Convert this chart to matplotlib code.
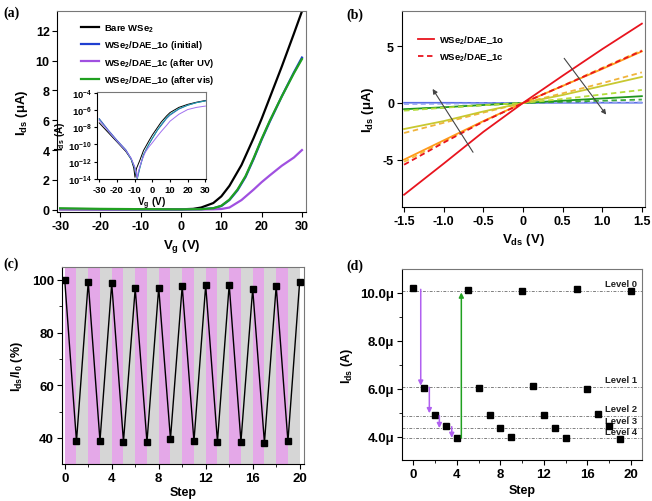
import matplotlib
matplotlib.use("Agg")
import matplotlib.pyplot as plt
import numpy as np
from matplotlib.ticker import MultipleLocator, FuncFormatter, FixedLocator

plt.rcParams["font.family"] = "Liberation Sans"
plt.rcParams["font.weight"] = "bold"
plt.rcParams["axes.labelweight"] = "bold"
plt.rcParams["axes.unicode_minus"] = False
plt.rcParams["mathtext.fontset"] = "custom"
plt.rcParams["mathtext.rm"] = "Liberation Sans:bold"
plt.rcParams["mathtext.bf"] = "Liberation Sans:bold"
plt.rcParams["mathtext.it"] = "Liberation Sans:bold"
plt.rcParams["mathtext.default"] = "bf"

# ---- (a) transfer curves, linear scale (uA) ----
bare_vg = [-30, -20, -10, 0, 3, 5, 8, 10, 12, 15, 18, 20, 22, 25, 28, 30]
bare_ids = [0.04, 0.03, 0.03, 0.03, 0.06, 0.15, 0.45, 0.9, 1.6, 3.0, 4.8, 6.1, 7.5, 9.6, 11.8, 13.3]
init_vg = [-30, -20, -10, 0, 5, 8, 10, 12, 14, 16, 18, 20, 22, 25, 28, 30]
init_ids = [0.05, 0.04, 0.03, 0.03, 0.04, 0.1, 0.25, 0.65, 1.3, 2.2, 3.4, 4.7, 5.9, 7.6, 9.2, 10.2]
vis_ids = [0.1, 0.06, 0.04, 0.03, 0.04, 0.1, 0.27, 0.68, 1.35, 2.25, 3.45, 4.75, 5.95, 7.6, 9.15, 10.1]
uv_vg = [-30, -20, -10, 0, 5, 8, 10, 12, 15, 18, 20, 22, 25, 28, 30]
uv_ids = [0.03, 0.03, 0.02, 0.02, 0.02, 0.03, 0.05, 0.15, 0.65, 1.35, 1.85, 2.3, 2.95, 3.5, 4.0]

# inset, log10 of Ids (A)
bare_log_vg = [-30, -25, -20, -15, -12, -10.5, -9.8, -9, -7, -5, -2, 0, 3, 5, 8, 10, 15, 20, 25, 30]
bare_log_ids = [-7.5, -8.6, -9.7, -10.8, -11.7, -12.7, -13.8, -12.8, -11.8, -10.7, -9.6, -8.9, -8.0,
                -7.4, -6.7, -6.3, -5.7, -5.35, -5.1, -4.9]
open_log_vg = [-30, -25, -20, -15, -12, -10, -9, -8.5, -7, -5, -2, 0, 3, 5, 8, 10, 15, 20, 25, 30]
init_log_ids = [-7.0, -8.3, -9.5, -10.6, -11.6, -12.6, -13.5, -13.9, -12.6, -11.2, -10.0, -9.3, -8.3,
                -7.8, -7.0, -6.6, -5.9, -5.45, -5.15, -4.95]
vis_log_ids = [-7.1, -8.4, -9.6, -10.7, -11.7, -12.7, -13.6, -14.0, -12.7, -11.2, -10.0, -9.3, -8.3,
               -7.7, -6.9, -6.5, -5.85, -5.45, -5.15, -4.95]
uv_log_vg = [-30, -25, -20, -15, -12, -10, -9, -8.5, -8, -6, -4, -2, 0, 3, 5, 8, 10, 15, 20, 25, 30]
uv_log_ids = [-7.2, -8.4, -9.6, -10.7, -11.6, -12.6, -13.4, -13.9, -13.2, -11.9, -10.9, -10.3, -9.8,
              -9.0, -8.5, -7.8, -7.3, -6.5, -5.95, -5.7, -5.55]

# ---- (b) output curves (uA) ----
vds = [-1.5, -1.0, -0.5, 0, 0.5, 1.0, 1.5]
red_open = [-8.1, -5.35, -2.55, 0, 2.4, 4.75, 7.0]
red_closed = [-5.45, -3.5, -1.65, 0, 1.5, 3.05, 4.6]
orange_open = [-5.0, -3.3, -1.6, 0, 1.5, 3.0, 4.55]
orange_closed = [-5.2, -3.4, -1.62, 0, 1.52, 3.1, 4.65]
yellow_open = [-2.3, -1.6, -0.75, 0, 0.7, 1.5, 2.3]
yellow_closed = [-2.65, -1.75, -0.85, 0, 0.85, 1.75, 2.7]
lime_closed = [-0.68, -0.42, -0.2, 0, 0.35, 0.75, 1.15]
green_open = [-0.55, -0.38, -0.18, 0, 0.2, 0.4, 0.6]
green_closed = [-0.6, -0.4, -0.19, 0, 0.1, 0.2, 0.3]
blue_open = [0.02, 0.02, 0.01, 0, 0.01, 0.02, 0.02]
blue_closed = [-0.1, -0.07, -0.03, 0, 0.02, 0.04, 0.05]

# ---- (c) switching cycles ----
steps = list(range(21))
ratio = [100, 38.7, 99.2, 38.9, 98.7, 38.6, 96.8, 38.4, 97.1, 39.6, 97.7,
         38.7, 98.0, 38.6, 98.2, 38.6, 96.6, 38.2, 97.7, 38.7, 99.4]

# ---- (d) multilevel states (uA) ----
ids_levels = [10.22, 6.03, 4.89, 4.44, 3.96, 10.12, 6.03, 4.92, 4.36, 3.99, 10.07,
              6.13, 4.89, 4.38, 3.94, 10.15, 6.01, 4.96, 4.44, 3.92, 10.07]
level_values = [10.1, 6.08, 4.87, 4.36, 3.93]
level_names = ["Level 0", "Level 1", "Level 2", "Level 3", "Level 4"]

fig = plt.figure(figsize=(6.52, 5.02), dpi=100)


def style_axis(ax, size):
    ax.tick_params(direction="out", length=3.5, width=0.8, labelsize=size, pad=2)
    ax.tick_params(which="minor", direction="out", length=2, width=0.6)
    for s in ax.spines.values():
        s.set_linewidth(0.8)
    ax.spines["top"].set_color("#777777")
    ax.spines["right"].set_color("#777777")


# (a)
ax_a = fig.add_axes([0.0879, 0.5757, 0.3814, 0.4004])
ax_a.plot(bare_vg, bare_ids, color="black", lw=1.6, label="Bare WSe$_2$")
ax_a.plot(init_vg, init_ids, color="#1f3fd0", lw=1.6, label="WSe$_2$/DAE_1o (initial)")
ax_a.plot(uv_vg, uv_ids, color="#a050e0", lw=1.6, label="WSe$_2$/DAE_1c (after UV)")
ax_a.plot(init_vg, vis_ids, color="#20a020", lw=1.6, label="WSe$_2$/DAE_1o (after vis)")
ax_a.set_xlim(-30.7, 31)
ax_a.set_ylim(-0.15, 13.32)
ax_a.set_xticks([-30, -20, -10, 0, 10, 20, 30])
ax_a.set_yticks([0, 2, 4, 6, 8, 10, 12])
style_axis(ax_a, 9)
ax_a.set_xlabel("V$_g$ (V)", fontsize=9.5, labelpad=4)
ax_a.set_ylabel("I$_{ds}$ (μA)", fontsize=9.5, labelpad=4)
ax_a.legend(loc="upper left", bbox_to_anchor=(0.07, 0.975), frameon=False, fontsize=6.8,
            handlelength=1.9, handletextpad=0.5, labelspacing=0.45, borderpad=0.2)

ax_in = fig.add_axes([0.1495, 0.6414, 0.1669, 0.1733])
ax_in.plot(bare_log_vg, 10.0 ** np.array(bare_log_ids), color="black", lw=0.7)
ax_in.plot(open_log_vg, 10.0 ** np.array(init_log_ids), color="#3050c0", lw=0.7)
ax_in.plot(open_log_vg, 10.0 ** np.array(vis_log_ids), color="#20a0a0", lw=0.7)
ax_in.plot(uv_log_vg, 10.0 ** np.array(uv_log_ids), color="#a070f0", lw=0.7)
ax_in.set_yscale("log")
ax_in.set_xlim(-31, 30.5)
ax_in.set_ylim(1e-14, 1.2e-4)
ax_in.set_xticks([-30, -20, -10, 0, 10, 20, 30])
ax_in.yaxis.set_major_locator(FixedLocator([1e-14, 1e-12, 1e-10, 1e-8, 1e-6, 1e-4]))
ax_in.yaxis.set_minor_locator(FixedLocator([]))
ax_in.yaxis.set_major_formatter(FuncFormatter(lambda v, p: "10$^{%d}$" % round(np.log10(v))))
style_axis(ax_in, 6.8)
ax_in.tick_params(length=2)
ax_in.set_xlabel("V$_g$ (V)", fontsize=7.2, labelpad=1)
ax_in.set_ylabel("I$_{ds}$ (A)", fontsize=7.2, labelpad=1)

# (b)
ax_b = fig.add_axes([0.6161, 0.5857, 0.3732, 0.3898])
ax_b.plot(vds, blue_open, color="#5a6ee6", lw=1.2)
ax_b.plot(vds, blue_closed, color="#8fa0f0", lw=1.2, ls=(0, (3, 2)))
ax_b.plot(vds, green_closed, color="#3caa3c", lw=1.3, ls=(0, (3, 2)))
ax_b.plot(vds, green_open, color="#1e961e", lw=1.3)
ax_b.plot(vds, lime_closed, color="#b4dc3c", lw=1.3, ls=(0, (3, 2)))
ax_b.plot(vds, yellow_closed, color="#f0b43c", lw=1.3, ls=(0, (3, 2)))
ax_b.plot(vds, yellow_open, color="#c8c830", lw=1.3)
ax_b.plot(vds, orange_closed, color="#f5c040", lw=1.3, ls=(0, (3, 2)))
ax_b.plot(vds, orange_open, color="#ff9a1a", lw=1.3)
ax_b.plot(vds, red_closed, color="#e8141e", lw=1.3, ls=(0, (3, 2)), label="WSe$_2$/DAE_1c")
ax_b.plot(vds, red_open, color="#e8141e", lw=1.3, label="WSe$_2$/DAE_1o")
ax_b.set_xlim(-1.53, 1.54)
ax_b.set_ylim(-9.18, 8.09)
ax_b.set_xticks([-1.5, -1.0, -0.5, 0, 0.5, 1.0, 1.5])
ax_b.set_xticklabels(["-1.5", "-1.0", "-0.5", "0", "0.5", "1.0", "1.5"])
ax_b.set_yticks([-5, 0, 5])
style_axis(ax_b, 9)
ax_b.set_xlabel("V$_{ds}$ (V)", fontsize=9.5, labelpad=3)
ax_b.set_ylabel("I$_{ds}$ (μA)", fontsize=9.5, labelpad=5)
hb, lb = ax_b.get_legend_handles_labels()
ax_b.legend(hb[::-1], lb[::-1], loc="upper left", bbox_to_anchor=(0.04, 0.92), frameon=False,
            fontsize=6.8, handlelength=1.7, handletextpad=0.5, labelspacing=0.5, borderpad=0.2)
ax_b.annotate("", xy=(-1.14, 1.24), xytext=(-0.63, -4.35),
              arrowprops=dict(arrowstyle="-|>", color="#444444", lw=0.8, mutation_scale=7,
                              shrinkA=0, shrinkB=0))
ax_b.annotate("", xy=(1.05, -1.03), xytext=(0.52, 3.94),
              arrowprops=dict(arrowstyle="-|>", color="#444444", lw=0.8, mutation_scale=7,
                              shrinkA=0, shrinkB=0))

# (c)
ax_c = fig.add_axes([0.0946, 0.0737, 0.3717, 0.3918])
for k in range(20):
    ax_c.axvspan(k, k + 1, color="#e4a8e8" if k % 2 == 0 else "#d6d6d6", lw=0, zorder=0)
ax_c.plot(steps, ratio, color="black", lw=1.0, marker="s", ms=4.2, zorder=3)
ax_c.set_xlim(-0.26, 20.37)
ax_c.set_ylim(30.1, 104.8)
ax_c.xaxis.set_major_locator(MultipleLocator(4))
ax_c.xaxis.set_minor_locator(MultipleLocator(2))
ax_c.yaxis.set_major_locator(FixedLocator([40, 60, 80, 100]))
ax_c.yaxis.set_minor_locator(FixedLocator([50, 70, 90]))
style_axis(ax_c, 9.5)
ax_c.set_xlabel("Step", fontsize=9, labelpad=2)
ax_c.set_ylabel("I$_{ds}$/I$_0$ (%)", fontsize=9, labelpad=5)

# (d)
ax_d = fig.add_axes([0.6161, 0.0817, 0.369, 0.3805])
for val, name in zip(level_values, level_names):
    ax_d.axhline(val, color="#808080", lw=0.7, ls=(0, (3, 1.5, 1, 1.5)), zorder=1)
    ax_d.text(20.6, val + 0.12, name, ha="right", va="bottom", fontsize=6.8, color="#222222")
ax_d.plot(steps, ids_levels, ls="none", marker="s", ms=4.6, color="black", zorder=3)
arrow_kw = dict(arrowstyle="-|>", lw=1.1, mutation_scale=7, shrinkA=0, shrinkB=0)
for x0, y0, y1 in [(0.68, 10.15, 6.13), (1.47, 6.06, 4.98), (2.39, 4.88, 4.36), (3.53, 4.42, 3.95)]:
    ax_d.annotate("", xy=(x0, y1), xytext=(x0, y0), arrowprops=dict(color="#b060f0", **arrow_kw))
ax_d.annotate("", xy=(4.41, 10.02), xytext=(4.41, 3.95), arrowprops=dict(color="#20a020", **arrow_kw))
ax_d.set_xlim(-1.07, 21.04)
ax_d.set_ylim(3.03, 11.0)
ax_d.xaxis.set_major_locator(MultipleLocator(4))
ax_d.xaxis.set_minor_locator(MultipleLocator(2))
ax_d.yaxis.set_major_locator(FixedLocator([4, 6, 8, 10]))
ax_d.yaxis.set_minor_locator(FixedLocator([5, 7, 9]))
ax_d.yaxis.set_major_formatter(FuncFormatter(lambda v, p: "%.1fμ" % v))
style_axis(ax_d, 9.5)
ax_d.set_xlabel("Step", fontsize=9, labelpad=3)
ax_d.set_ylabel("I$_{ds}$ (A)", fontsize=9, labelpad=4)

# panel letters
for lab, x, y in [("(a)", 0.005, 0.973), ("(b)", 0.532, 0.969), ("(c)", 0.005, 0.473), ("(d)", 0.532, 0.469)]:
    fig.text(x, y, lab, fontsize=10, fontweight="bold", family="Liberation Serif", va="center")

fig.savefig("out.png", dpi=100)
